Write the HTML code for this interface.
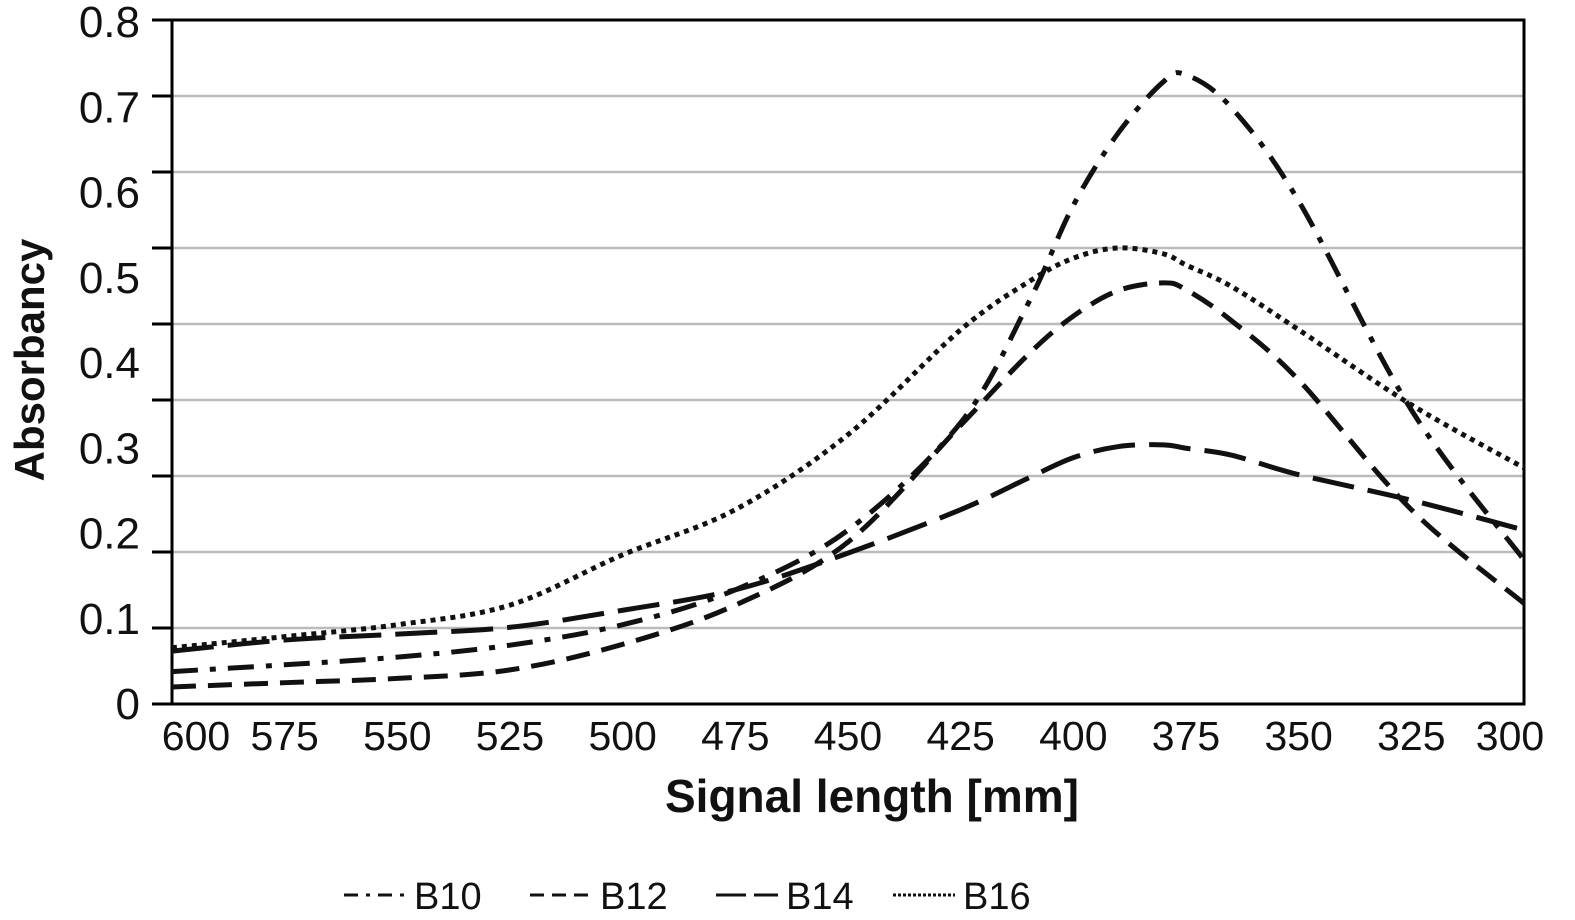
<!DOCTYPE html>
<html><head><meta charset="utf-8"><style>
html,body{margin:0;padding:0;background:#fff;}
svg text{font-family:"Liberation Sans",sans-serif;fill:#111;}
</style></head><body>
<svg id="chart" width="1575" height="915" viewBox="0 0 1575 915" xmlns="http://www.w3.org/2000/svg">
<g id="grid"></g>
<g id="axes"></g>
<g id="series"></g>
<text transform="translate(44,360) rotate(-90)" text-anchor="middle" font-size="42" font-weight="bold">Absorbancy</text>
<text x="872" y="812" text-anchor="middle" font-size="46" font-weight="bold">Signal length [mm]</text>
<g id="legend"></g>
</svg>
<script>
const xTicks=[600,575,550,525,500,475,450,425,400,375,350,325,300];
const yTicks=[0,0.1,0.2,0.3,0.4,0.5,0.6,0.7,0.8];
const seriesNames=["B10","B12","B14","B16"];
const wl=[600,575,550,525,500,475,450,425,410,400,390,380,375,365,350,325,300];
const b10=[0.038,0.046,0.055,0.069,0.093,0.134,0.204,0.33,0.47,0.585,0.67,0.73,0.738,0.70,0.59,0.345,0.169];
const b12=[0.02,0.025,0.03,0.04,0.07,0.116,0.19,0.327,0.41,0.455,0.485,0.494,0.486,0.45,0.38,0.228,0.118];
const b14=[0.062,0.075,0.082,0.09,0.11,0.134,0.177,0.228,0.265,0.289,0.302,0.304,0.300,0.292,0.269,0.239,0.204];
const b16=[0.066,0.079,0.093,0.116,0.175,0.228,0.316,0.439,0.495,0.523,0.535,0.528,0.515,0.49,0.439,0.351,0.277];
const NS="http://www.w3.org/2000/svg";
const X0=172,X1=1524,Y0=704,Y1=22;
function xs(w){return X0+(600-w)/(300)*(X1-X0);}
function ys(v){return Y0-v/0.8*(Y0-Y1);}
function mk(t,a,p){const e=document.createElementNS(NS,t);for(const k in a)e.setAttribute(k,a[k]);p.appendChild(e);return e;}
const grid=document.getElementById('grid'),axes=document.getElementById('axes'),ser=document.getElementById('series'),leg=document.getElementById('legend');
for(let i=0;i<=9;i++){
  const y=20+i*(704-20)/9;
  if(i>0&&i<9){const g=mk('line',{x1:X0,x2:X1,y1:y,y2:y,stroke:'#bbb','stroke-width':2.5},grid);
  
  }
  const t=mk('line',{x1:152,x2:X0,y1:y,y2:y,stroke:'#000','stroke-width':3},axes);
  
  
}
mk('path',{d:`M152 20 H${X1} V${Y0} H152 M${X0} 20 V${Y0}`,fill:'none',stroke:'#000','stroke-width':3},axes);
yTicks.forEach(v=>{const t=mk('text',{x:140,y:ys(v)+15,'text-anchor':'end','font-size':44},axes);t.textContent=v===0?'0':v.toFixed(1);

});
xTicks.forEach(w=>{let x=xs(w);if(w===600)x+=24;if(w===300)x-=14;const t=mk('text',{x:x,y:750,'text-anchor':'middle','font-size':41},axes);t.textContent=w;

});
function path(vals){const p=wl.map((w,i)=>[xs(w),ys(vals[i])]);let d=`M${p[0][0]} ${p[0][1]}`;
for(let i=0;i<p.length-1;i++){const a=p[Math.max(0,i-1)],b=p[i],c=p[i+1],e=p[Math.min(p.length-1,i+2)];
d+=` C${b[0]+(c[0]-a[0])/6} ${b[1]+(c[1]-a[1])/6} ${c[0]-(e[0]-b[0])/6} ${c[1]-(e[1]-b[1])/6} ${c[0]} ${c[1]}`;}return d;}
const data=[b10,b12,b14,b16];
const dashes=["26 12 6 12","24 12","42 14","5 5"];
data.forEach((v,i)=>{const e=mk('path',{d:path(v),fill:'none',stroke:'#111','stroke-width':5,'stroke-dasharray':dashes[i]},ser);

});
const lx=[344,530,716,893];
const ldash=["14 8 4 8","14 8","30 8","3 2"];
seriesNames.forEach((n,i)=>{const g=mk('g',{},leg);


mk('line',{x1:lx[i],x2:lx[i]+62,y1:895,y2:895,stroke:'#111','stroke-width':3,'stroke-dasharray':ldash[i]},g);
const t=mk('text',{x:lx[i]+70,y:909,'font-size':38},g);t.textContent=n;});
</script>
</body></html>
